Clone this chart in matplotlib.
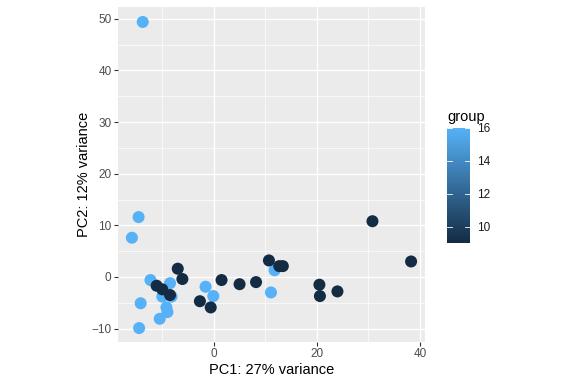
import matplotlib
matplotlib.use("Agg")
from matplotlib import pyplot as plt
from matplotlib.colors import LinearSegmentedColormap, Normalize
from matplotlib.ticker import MultipleLocator
import matplotlib.cm as cm

plt.rcParams['font.family'] = ['Liberation Sans', 'DejaVu Sans']

# PCA scores
pc1 = [-13.8, -14.6, -15.9, -12.3, -8.5, -14.2, -14.5, -10.5, -9.2, -9.0,
       -10.0, -8.2, -1.6, -0.1, 11.8, 11.1,
       -7.0, -6.1, -11.1, -10.0, -8.5, -2.7, -0.6, 1.5, 5.0, 8.2,
       10.7, 12.7, 13.4, 20.5, 20.6, 24.0, 30.8, 38.3]
pc2 = [49.4, 11.6, 7.6, -0.6, -1.2, -5.1, -9.9, -8.1, -5.9, -6.8,
       -3.8, -3.8, -1.9, -3.7, 1.3, -3.0,
       1.6, -0.4, -1.7, -2.4, -3.5, -4.7, -5.9, -0.6, -1.4, -1.0,
       3.2, 2.1, 2.1, -1.5, -3.7, -2.8, 10.8, 3.0]
group = [16] * 16 + [9] * 18

x_label = "PC1: 27% variance"
y_label = "PC2: 12% variance"
legend_title = "group"

cmap = LinearSegmentedColormap.from_list("gg", ["#132B43", "#56B1F7"])
norm = Normalize(vmin=9, vmax=16)

fig = plt.figure(figsize=(5.76, 3.84), dpi=100)
ax = fig.add_axes([118 / 576, 42 / 384, 307 / 576, 335 / 384])
ax.set_facecolor("#EBEBEB")

ax.scatter(pc1, pc2, c=group, cmap=cmap, norm=norm, s=75, linewidths=0, zorder=3)

ax.set_xlim(-18.6, 41.0)
ax.set_ylim(-12.6, 52.3)
ax.xaxis.set_major_locator(MultipleLocator(20))
ax.xaxis.set_minor_locator(MultipleLocator(10))
ax.yaxis.set_major_locator(MultipleLocator(10))
ax.yaxis.set_minor_locator(MultipleLocator(5))
ax.grid(which="major", color="white", linewidth=1.0, zorder=1)
ax.grid(which="minor", color="white", linewidth=0.5, zorder=1)
ax.set_axisbelow(True)
for s in ax.spines.values():
    s.set_visible(False)
ax.tick_params(which="major", length=2.6, width=0.8, color="#333333",
               labelcolor="#4D4D4D", labelsize=8.5, pad=2)
ax.tick_params(which="minor", length=0)

ax.set_xlabel(x_label, fontsize=10.5, labelpad=2)
ax.set_ylabel(y_label, fontsize=10.5, labelpad=0)

# colourbar legend
cax = fig.add_axes([447 / 576, 141 / 384, 23 / 576, 115 / 384])
cb = fig.colorbar(cm.ScalarMappable(norm=norm, cmap=cmap), cax=cax)
cb.outline.set_visible(False)
cb.set_ticks([10, 12, 14, 16])
cax.tick_params(length=0, labelsize=8.5, pad=5, labelcolor="#1A1A1A")
for v in [10, 12, 14, 16]:
    cax.plot([0, 0.2], [v, v], color="white", linewidth=0.6, transform=cax.get_yaxis_transform())
    cax.plot([0.8, 1.0], [v, v], color="white", linewidth=0.6, transform=cax.get_yaxis_transform())
fig.text(447 / 576, 1 - 117 / 384, legend_title, fontsize=10.5, ha="left", va="center")

fig.savefig("out.png", dpi=100)
